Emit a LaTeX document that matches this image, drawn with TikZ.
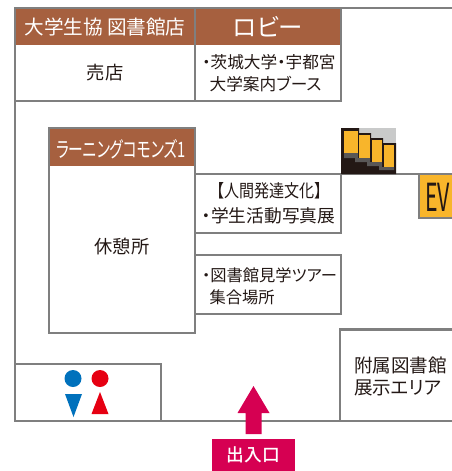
\documentclass[tikz,border=0pt]{standalone}
\usepackage{graphicx}
\usepackage{fontspec}
\setmainfont[RawFeature=+palt]{Noto Sans CJK JP}
\newfontfamily\medf[RawFeature=+palt]{Noto Sans CJK JP Medium}
\definecolor{wallc}{HTML}{7F7F7F}
\definecolor{brownc}{HTML}{A6603F}
\definecolor{inkc}{HTML}{231815}
\definecolor{orangec}{HTML}{F8B52B}
\definecolor{pinkc}{HTML}{D60052}
\definecolor{bluec}{HTML}{0071BC}
\definecolor{redc}{HTML}{E60012}
\definecolor{lgray}{HTML}{C9CACA}
\definecolor{dgray}{HTML}{595757}
\tikzset{
  wall/.style={draw=wallc,line width=2.1pt},
  head/.style={fill=brownc},
  lab/.style={text=inkc,font=\fontsize{12.5}{16.5}\selectfont,inner sep=0pt,align=left,anchor=west},
  labc/.style={text=inkc,font=\fontsize{13.7}{16.5}\selectfont,inner sep=0pt,align=center},
  headlab/.style={text=white,font=\fontsize{14.7}{16}\selectfont,inner sep=0pt},
}
\begin{document}
\begin{tikzpicture}[x=0.75pt,y=-0.75pt]
\useasboundingbox (0,0) rectangle (452,471);
% headers
\fill[head] (15,8) rectangle (195,45);
\fill[head] (195,8) rectangle (341,45);
\fill[head] (49,128) rectangle (195,166);
% walls
\draw[wall] (452,8) -- (15,8) -- (15,421) -- (452,421);
\draw[wall] (15,101) -- (341,101) -- (341,8);
\draw[wall] (195,8) -- (195,101);
\draw[wall] (49,128) rectangle (195,333);
\draw[wall] (195,174) -- (452,174);
\draw[wall] (341,174) -- (341,233) -- (195,233);
\draw[wall] (195,255) -- (341,255) -- (341,314) -- (195,314);
\draw[wall] (340,421) -- (340,329.5) -- (452,329.5);
\draw[wall] (15,364) -- (161,364) -- (161,421);
% header texts
\node[headlab] (coop) at (105,27) {大学生協 図書館店};
\node[headlab,font=\fontsize{18.3}{19}\selectfont] (lobby) at (268,27) {ロビー};
\node[headlab,font=\fontsize{16}{18}\selectfont,xscale=0.69] (lc) at (121,149) {ラーニングコモンズ1};
% room texts
\node[labc] (shop) at (105,73) {売店};
\node[lab] (booth) at (202,73) {・茨城大学・宇都宮\\\hspace*{5.5pt}大学案内ブース};
\node[labc] (rest) at (122,246) {休憩所};
\node[lab,font=\fontsize{13.3}{18.7}\selectfont] (photo) at (202,203) {\hspace*{11pt}\scalebox{0.85}[1]{【人間発達文化】}\\・学生活動写真展};
\node[lab,font=\fontsize{12.2}{16.5}\selectfont] (tour) at (202,286) {・図書館見学ツアー\\\hspace*{5.5pt}集合場所};
\node[lab,font=\fontsize{13.9}{16.5}\selectfont] (exhibit) at (354,376) {附属図書館\\展示エリア};
% stairs
\fill[lgray] (359,128) rectangle (396,150);
\fill[inkc] (341,128) -- (359,128) -- (359,133) -- (371,133) -- (371,138) -- (383,138) -- (383,143) -- (396,143) -- (396,174) -- (341,174) -- cycle;
\fill[dgray] (344,153) -- (358,153) -- (358,158) -- (370,158) -- (370,162) -- (382,162) -- (382,167) -- (394,167) -- (394,170) -- (379,170) -- (379,166) -- (367,166) -- (367,162) -- (355,162) -- (355,158) -- (344,158) -- cycle;
\fill[orangec] (344,131) rectangle (358,153);
\fill[orangec] (359,135) rectangle (370,158);
\fill[orangec] (372,140) rectangle (382,162);
\fill[orangec] (384,145) rectangle (394,167);
% elevator
\fill[orangec] (419,175) rectangle (452,218);
\draw[wallc,line width=1.6pt] (452,218) -- (419,218) -- (419,175);
\node[text=inkc,font=\fontsize{29}{29}\selectfont,xscale=0.55,inner sep=0pt,anchor=west] (ev) at (425,197) {EV};
% toilet
\fill[bluec] (73,378.5) circle (8.5);
\fill[bluec] (65,394) -- (82,394) -- (73.5,417) -- cycle;
\fill[redc] (100,378.5) circle (8.5);
\fill[redc] (100,392) -- (108.5,414) -- (91.5,414) -- cycle;
% entrance
\fill[pinkc] (253.5,386) -- (269.5,413) -- (261.5,413) -- (261.5,434) -- (245.5,434) -- (245.5,413) -- (237.5,413) -- cycle;
\fill[pinkc] (212,439) rectangle (295,471);
\node[text=white,font=\medf\fontsize{13.3}{15}\selectfont,inner sep=0pt] (door) at (253.5,455) {出入口};
\end{tikzpicture}
\end{document}
